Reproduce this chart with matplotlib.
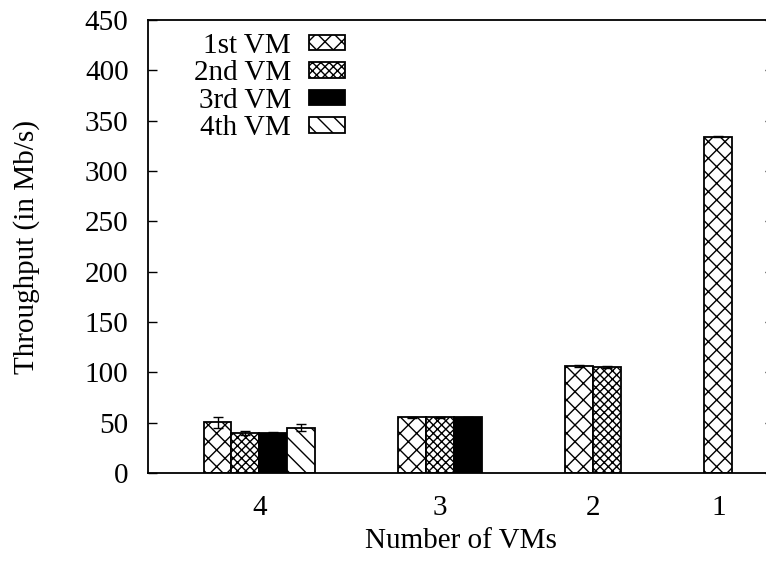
import numpy as np
import matplotlib
matplotlib.use("Agg")
import matplotlib.pyplot as plt

# Data
groups = ["4", "3", "2", "1"]
series = ["1st VM", "2nd VM", "3rd VM", "4th VM"]
vm1 = [50.5, 55.5, 106.0, 334.0]
vm2 = [40.0, 55.5, 105.0, np.nan]
vm3 = [39.5, 55.5, np.nan, np.nan]
vm4 = [45.0, np.nan, np.nan, np.nan]
err1 = [5.5, 0.5, 1.0, 0.5]
err2 = [2.0, 0.5, 1.0, np.nan]
err3 = [1.5, 0.5, np.nan, np.nan]
err4 = [3.5, np.nan, np.nan, np.nan]

values = [vm1, vm2, vm3, vm4]
errors = [err1, err2, err3, err4]
hatches = ["xx", "xxxx", None, "\\\\"]
faces = ["white", "white", "black", "white"]

plt.rcParams["font.family"] = ["Liberation Serif", "DejaVu Serif"]
plt.rcParams["hatch.linewidth"] = 1.0
plt.rcParams["hatch.color"] = "black"

FS = 21

fig = plt.figure(figsize=(7.66, 5.64), dpi=100)
ax = fig.add_axes([148 / 766, 91 / 564, 626 / 766, 453 / 564])

# layout: bars of width 1, gap of 3 between clusters, 2 before the first
nbars = [sum(~np.isnan(v[i]) for v in values) for i in range(len(groups))]
starts = []
pos = 2
for n in nbars:
    starts.append(pos)
    pos += n + 3
centers = [s + n / 2 for s, n in zip(starts, nbars)]

for j in range(len(series)):
    xs, ys, es = [], [], []
    for i in range(len(groups)):
        if not np.isnan(values[j][i]):
            xs.append(starts[i] + j + 0.5)
            ys.append(values[j][i])
            es.append(errors[j][i])
    ax.bar(xs, ys, width=1.0, color=faces[j], edgecolor="black",
           hatch=hatches[j], linewidth=1.3, label=series[j], zorder=2)
    ax.errorbar(xs, ys, yerr=es, fmt="none", ecolor="black",
                elinewidth=1.0, capsize=3.6, capthick=1.0, zorder=3)

ax.set_xlim(0, 22.5)
ax.set_ylim(0, 450)
ax.set_yticks(np.arange(0, 451, 50))
ax.set_xticks(centers)
ax.set_xticklabels(groups)

ax.tick_params(axis="y", direction="in", length=6.5, width=1.0,
               right=True, labelsize=FS, pad=14)
ax.tick_params(axis="x", length=0, labelsize=FS, pad=16)
for sp in ax.spines.values():
    sp.set_linewidth(1.3)

ax.set_xlabel("Number of VMs", fontsize=FS, labelpad=5)
ax.set_ylabel("Throughput (in Mb/s)", fontsize=FS, labelpad=32)

ax.legend(loc="upper right", bbox_to_anchor=(345 / 766, 1 - 33 / 564),
          bbox_transform=fig.transFigure, frameon=False, markerfirst=False,
          fontsize=FS, handlelength=1.25, handleheight=0.45,
          handletextpad=0.6, labelspacing=0.05, borderpad=0,
          borderaxespad=0)

fig.savefig("out.png", dpi=100)
